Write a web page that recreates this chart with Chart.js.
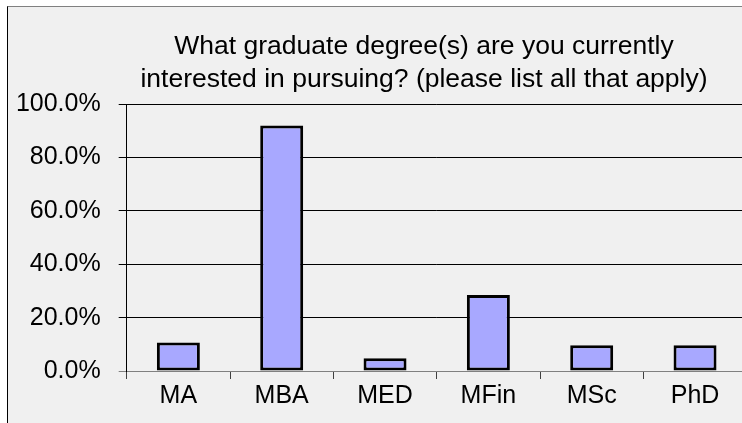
<!DOCTYPE html>
<html>
<head>
<meta charset="utf-8">
<script src="https://cdn.jsdelivr.net/npm/chart.js@4.4.1/dist/chart.umd.min.js"></script>
<style>
  html, body { margin: 0; padding: 0; background: #fff; overflow: hidden; width: 742px; height: 423px; }
  #box {
    position: absolute; left: 7px; top: 6px;
    border-left: 1px solid #000; border-top: 1px solid #808080;
    background: #f0f0f0; width: 760px; height: 430px;
  }
  canvas { display: block; }
</style>
</head>
<body>
<div id="box"><canvas id="chart" width="760" height="430"></canvas></div>
<script>
// survey answers, share of respondents (%)
const categories = ['MA', 'MBA', 'MED', 'MFin', 'MSc', 'PhD'];
const shares = [10.7, 92.0, 4.8, 28.5, 9.6, 9.6];
const titleLines = [
  'What graduate degree(s) are you currently',
  'interested in pursuing? (please list all that apply)'
];

const font = 'Liberation Sans, Arial, sans-serif';

// the original chart box is wider than the window, title is centred on the whole box
const titleSpan = {
  id: 'titleSpan',
  afterLayout(chart) {
    const t = chart.titleBlock;
    if (!t) return;
    t.left = 0;
    t.right = 832;
    t.width = 832;
  }
};

new Chart(document.getElementById('chart'), {
  type: 'bar',
  data: {
    labels: categories,
    datasets: [{
      label: 'share',
      data: shares,
      backgroundColor: '#a8a8ff',
      borderColor: '#000',
      borderWidth: 3,
      borderSkipped: false,
      categoryPercentage: 1,
      barPercentage: 0.416
    }]
  },
  options: {
    responsive: false,
    animation: false,
    layout: { padding: { left: 0, right: 21.3, top: 0, bottom: 0 } },
    plugins: {
      legend: { display: false },
      tooltip: { enabled: false },
      title: {
        display: true,
        text: titleLines,
        color: '#000',
        font: { family: font, size: 26.5, weight: 'normal', lineHeight: 1.25 },
        padding: { top: 23.45, bottom: 7.35 }
      }
    },
    scales: {
      x: {
        afterFit: (scale) => { scale.height = 66; },
        border: { color: '#808080', width: 1 },
        grid: {
          offset: true,
          drawOnChartArea: false,
          drawTicks: true,
          tickLength: 8,
          color: '#404040'
        },
        ticks: {
          color: '#000',
          padding: 2,
          font: { family: font, size: 25 }
        }
      },
      y: {
        min: 0,
        max: 100,
        afterFit: (scale) => { scale.width = 118.7; },
        border: { color: '#000', width: 1 },
        grid: {
          color: (ctx) => (ctx.tick && ctx.tick.value === 0 ? '#808080' : '#000'),
          tickLength: 8,
          drawTicks: true
        },
        ticks: {
          stepSize: 20,
          color: '#000',
          padding: 18,
          font: { family: font, size: 25 },
          callback: (v) => v.toFixed(1) + '%'
        }
      }
    }
  },
  plugins: [titleSpan]
});
</script>
</body>
</html>
